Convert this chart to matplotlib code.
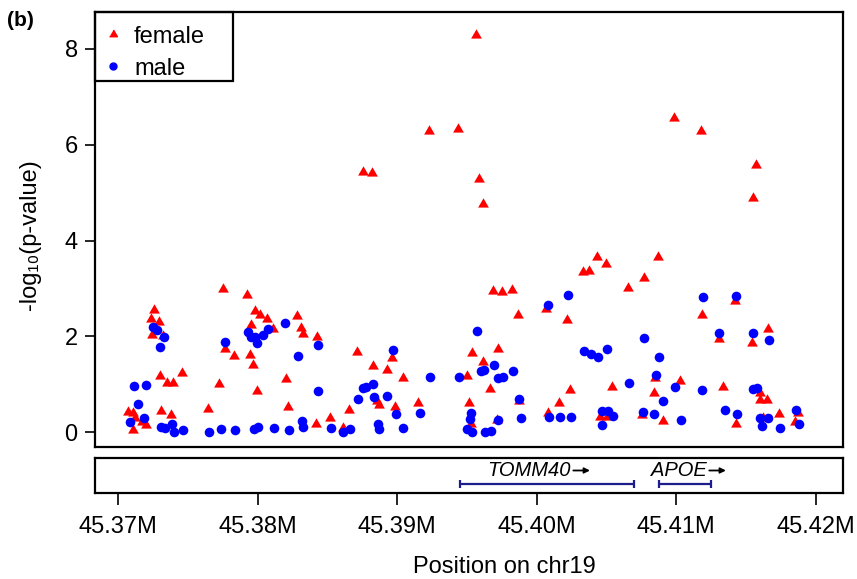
import matplotlib
matplotlib.use("Agg")
import matplotlib.pyplot as plt
from matplotlib.lines import Line2D
from matplotlib.patches import Rectangle
from matplotlib.text import OffsetFrom

plt.rcParams['font.family'] = ['Liberation Sans', 'DejaVu Sans']

# association results around APOE / TOMM40, positions in Mb on chr19
female_pos = [45.37751, 45.37923, 45.37258, 45.37237, 45.37296, 45.37242, 45.37320, 45.37982,
              45.38018, 45.38068, 45.38113, 45.37951, 45.37767, 45.37834, 45.37946, 45.37970,
              45.37301, 45.37349, 45.37396, 45.37457, 45.37726, 45.37996, 45.37647, 45.37074,
              45.37105, 45.37308, 45.37380, 45.37170, 45.37199, 45.37105, 45.37122,
              45.38285, 45.38312, 45.38324, 45.38424, 45.38711, 45.38830, 45.38926, 45.38966,
              45.39041, 45.38204, 45.38216, 45.38419, 45.38520, 45.38611, 45.38656, 45.38859,
              45.38869, 45.38986, 45.39153, 45.38754, 45.38819, 45.39229, 45.39435, 45.39564,
              45.39590, 45.39614, 45.40436, 45.40496, 45.40336, 45.40378, 45.40771, 45.40654,
              45.39690, 45.39751, 45.39822, 45.39865, 45.40068, 45.40221, 45.39535, 45.39722,
              45.39619, 45.39500, 45.39667, 45.40240, 45.40543, 45.39518, 45.39877, 45.40161,
              45.39719, 45.39530, 45.40080, 45.40455, 45.40503, 45.40754, 45.40986, 45.41177,
              45.41573, 45.41550, 45.40873, 45.41189, 45.41423, 45.41308, 45.41547, 45.41662,
              45.40849, 45.41029, 45.40842, 45.41339, 45.41602, 45.41602, 45.41650, 45.40905,
              45.41428, 45.41626, 45.41738, 45.41877, 45.41853]
female_logp = [2.98, 2.87, 2.56, 2.37, 2.30, 2.03, 2.00, 2.53,
               2.44, 2.37, 2.16, 2.23, 1.73, 1.59, 1.61, 1.41,
               1.17, 1.03, 1.03, 1.24, 1.00, 0.86, 0.48, 0.42,
               0.40, 0.44, 0.35, 0.22, 0.15, 0.04, 0.29,
               2.43, 2.18, 2.04, 1.98, 1.68, 1.38, 1.29, 1.55,
               1.13, 1.10, 0.52, 0.18, 0.29, 0.09, 0.47, 0.65,
               0.56, 0.53, 0.61, 5.42, 5.40, 6.28, 6.32, 8.29,
               5.28, 4.77, 3.66, 3.50, 3.35, 3.37, 3.21, 3.01,
               2.94, 2.93, 2.96, 2.44, 2.58, 2.34, 1.66, 1.73,
               1.47, 1.18, 0.90, 0.88, 0.95, 0.61, 0.65, 0.61,
               0.25, 0.18, 0.39, 0.32, 0.32, 0.35, 6.55, 6.28,
               5.57, 4.89, 3.66, 2.44, 2.74, 1.94, 1.87, 2.15,
               1.12, 1.06, 0.81, 0.95, 0.81, 0.68, 0.67, 0.24,
               0.18, 0.29, 0.37, 0.39, 0.22]

male_pos = [45.37253, 45.37277, 45.37301, 45.37330, 45.37767, 45.37934, 45.37953, 45.37982,
            45.37994, 45.38037, 45.38077, 45.38197, 45.37117, 45.37201, 45.37146, 45.37189,
            45.37086, 45.37308, 45.37337, 45.37385, 45.37401, 45.37464, 45.37654, 45.37736,
            45.37839, 45.37977, 45.38006, 45.38118,
            45.38292, 45.38432, 45.38432, 45.38974, 45.39237, 45.39444, 45.38758, 45.38778,
            45.38830, 45.38723, 45.38837, 45.38930, 45.38993, 45.39165, 45.38226, 45.38317,
            45.38328, 45.38527, 45.38615, 45.38663, 45.38862, 45.38869, 45.39045, 45.39500,
            45.40228, 45.40080, 45.39571, 45.40773, 45.40341, 45.40389, 45.40443, 45.40503,
            45.39698, 45.39602, 45.39624, 45.39726, 45.39758, 45.39834, 45.39877, 45.40663,
            45.39530, 45.39523, 45.39540, 45.39631, 45.39674, 45.39726, 45.39889, 45.40090,
            45.40168, 45.40247, 45.40467, 45.40510, 45.40551, 45.40467, 45.40761, 45.40842,
            45.41196, 45.41430, 45.41310, 45.41554, 45.41669, 45.40880, 45.40857, 45.40993,
            45.41184, 45.41554, 45.41578, 45.40909, 45.41038, 45.41351, 45.41435, 45.41602,
            45.41662, 45.41619, 45.41746, 45.41860, 45.41882]
male_logp = [2.20, 2.14, 1.77, 1.99, 1.89, 2.09, 1.98, 1.99,
             1.86, 2.03, 2.16, 2.28, 0.97, 0.98, 0.58, 0.29,
             0.22, 0.11, 0.08, 0.18, 0.00, 0.04, 0.01, 0.06,
             0.04, 0.06, 0.11, 0.08,
             1.59, 1.82, 0.86, 1.71, 1.15, 1.15, 0.93, 0.95,
             1.00, 0.70, 0.74, 0.75, 0.38, 0.39, 0.04, 0.24,
             0.11, 0.08, 0.01, 0.06, 0.18, 0.06, 0.09, 0.06,
             2.86, 2.65, 2.11, 1.97, 1.69, 1.64, 1.57, 1.73,
             1.40, 1.28, 1.29, 1.12, 1.15, 1.27, 0.70, 1.03,
             0.40, 0.27, 0.00, 0.01, 0.02, 0.25, 0.30, 0.31,
             0.32, 0.32, 0.44, 0.44, 0.34, 0.15, 0.42, 0.38,
             2.82, 2.84, 2.07, 2.07, 1.92, 1.57, 1.20, 0.95,
             0.88, 0.91, 0.92, 0.65, 0.25, 0.46, 0.37, 0.30,
             0.29, 0.13, 0.08, 0.46, 0.18]

gene_names = ['TOMM40', 'APOE']
gene_start = [45.39452, 45.40880]
gene_end = [45.40701, 45.41249]

xticks = [45.37, 45.38, 45.39, 45.40, 45.41, 45.42]
xtick_labels = ['45.37M', '45.38M', '45.39M', '45.40M', '45.41M', '45.42M']
yticks = [0, 2, 4, 6, 8]

W, H = 857, 579
fig = plt.figure(figsize=(W / 100, H / 100), dpi=100)


def px_box(l, t, r, b):
    return [l / W, 1 - b / H, (r - l) / W, (b - t) / H]


ax = fig.add_axes(px_box(95, 12, 843, 447))
gax = fig.add_axes(px_box(95, 458, 843, 492.7))
xlim = (45.36835, 45.42197)

# R-style filled equilateral triangle (pch 17)
tri = [(-1, -0.577), (1, -0.577), (0, 1.155)]

ax.scatter(female_pos, female_logp, marker=tri, s=80, color='#ff0000', linewidths=0, zorder=3)
ax.scatter(male_pos, male_logp, marker='o', s=48, color='#0000ff', linewidths=0, zorder=3)

ax.set_xlim(*xlim)
ax.set_ylim(-0.31, 8.77)
ax.set_yticks(yticks)
ax.tick_params(axis='y', length=7.5, width=1.2, pad=5, labelsize=17)
ax.tick_params(axis='x', bottom=False, labelbottom=False)
for s in ax.spines.values():
    s.set_linewidth(1.6)

handles = [Line2D([], [], marker=tri, color='#ff0000', ls='', ms=6.5),
           Line2D([], [], marker='o', color='#0000ff', ls='', ms=5)]
ax.legend(handles, ['female', 'male'], loc='upper left', bbox_to_anchor=(0, 1 - 8 / 435),
          borderaxespad=0, frameon=False, fontsize=17, borderpad=0.24,
          handlelength=1.04, handletextpad=0.37, labelspacing=0.42)
ax.add_patch(Rectangle((0, 1 - 69 / 435), 138 / 748, 69 / 435, transform=ax.transAxes,
                       fill=False, ec='black', lw=1.6, zorder=5, clip_on=False))

# gene track
gax.set_xlim(*xlim)
gax.set_ylim(0, 1)
gene_color = '#1c1c8c'
label_shift = [-0.00132, -0.00046]
for name, st, en, sh in zip(gene_names, gene_start, gene_end, label_shift):
    gax.plot([st, en], [0.25, 0.25], color=gene_color, lw=1.6,
             marker='|', ms=6, mew=1.6, solid_capstyle='butt')
    txt = gax.text((st + en) / 2 + sh, 0.64, name, style='italic', fontsize=14.5,
                   ha='center', va='center')
    off = OffsetFrom(txt, (1.0, 0.5))
    gax.annotate('', xy=(14, 0), xycoords=off, xytext=(2, 0), textcoords=off,
                 arrowprops=dict(arrowstyle='-|>', color='black', lw=1.3,
                                 mutation_scale=8, shrinkA=0, shrinkB=0))

gax.set_yticks([])
gax.set_xticks(xticks)
gax.set_xticklabels(xtick_labels)
gax.tick_params(axis='x', length=8.5, width=1.2, pad=8, labelsize=17)
for s in gax.spines.values():
    s.set_linewidth(1.6)

fig.text(504 / W, 1 - 573 / H, 'Position on chr19', fontsize=17, ha='center', va='baseline')
fig.text(30 / W, 1 - 235 / H, '-log\u2081\u2080(p-value)', fontsize=17, rotation=90,
         ha='center', va='center')
fig.text(7 / W, 1 - 21 / H, '(b)', fontsize=15, fontweight='bold', ha='left', va='center')

fig.savefig('out.png', dpi=100)
